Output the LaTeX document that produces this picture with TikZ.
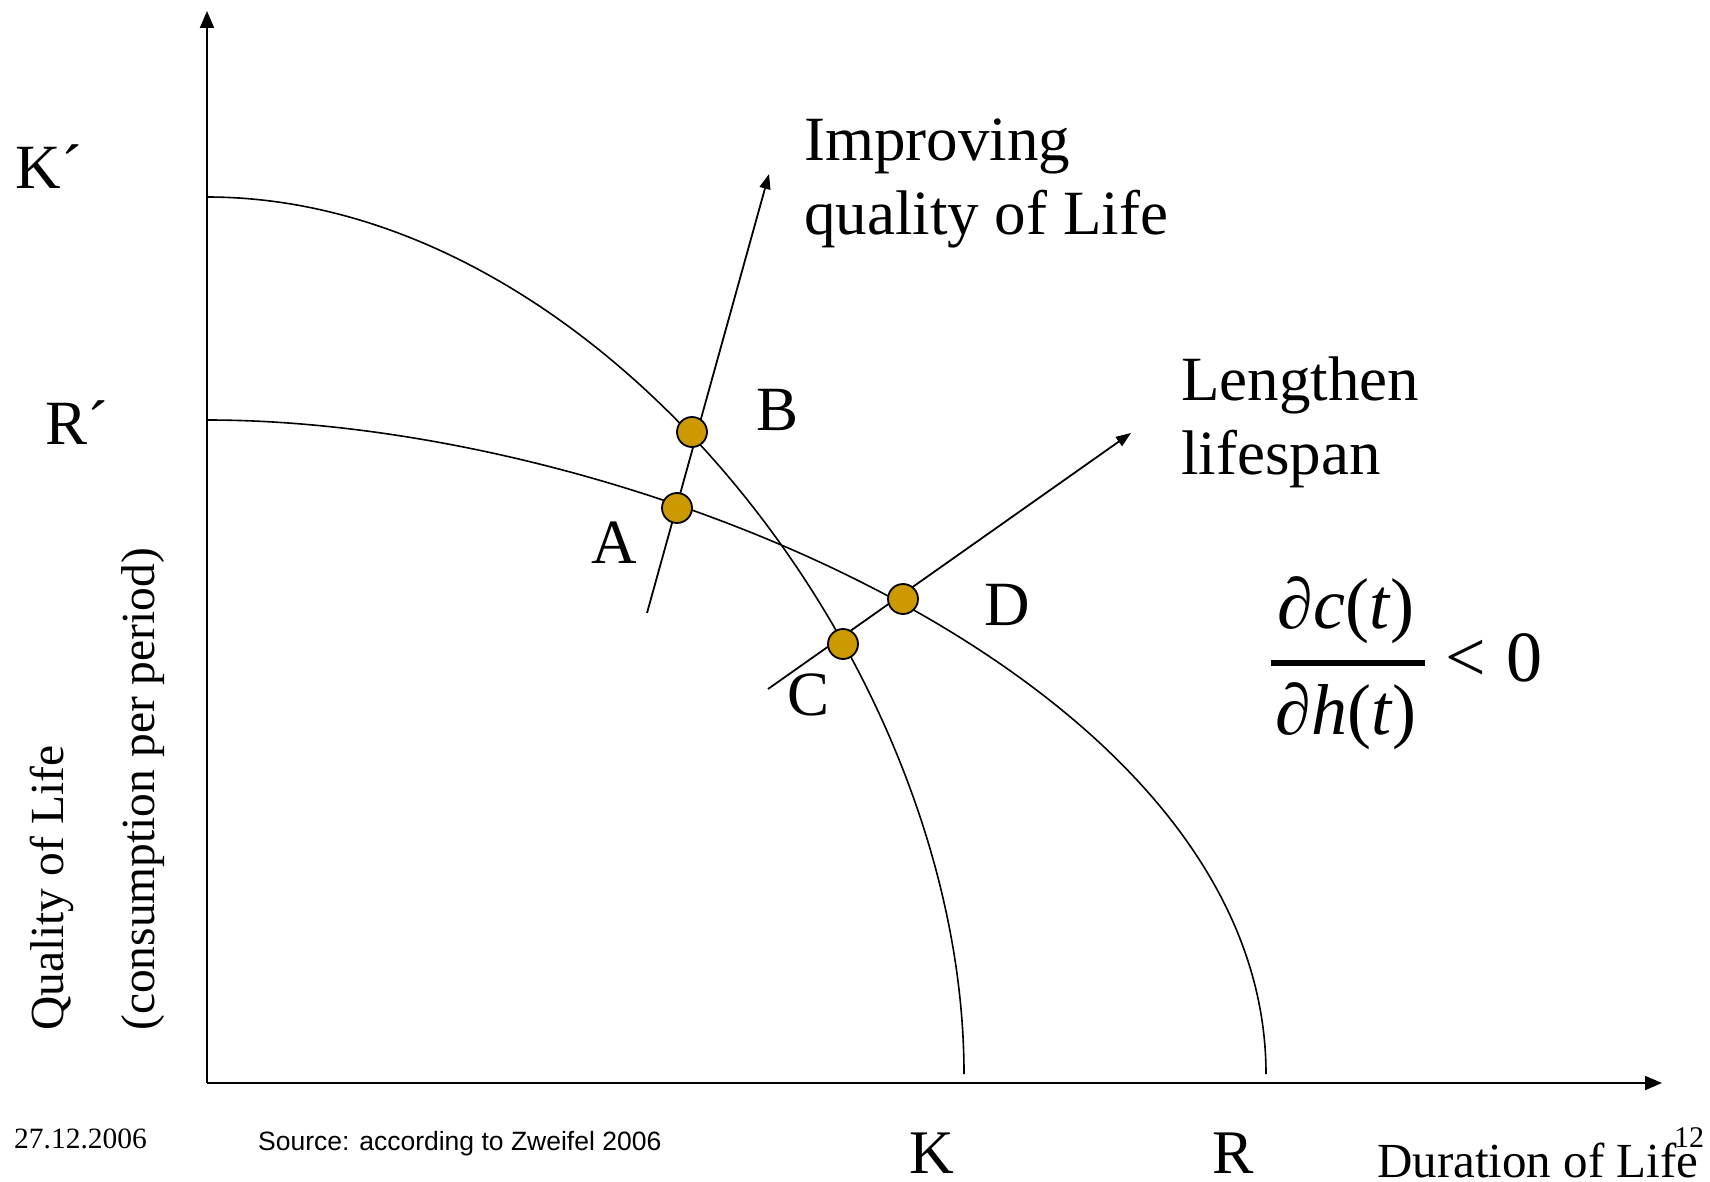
\RequirePackage{fix-cm}
\documentclass[tikz,border=0pt]{standalone}
\usepackage{fontspec}
\setmainfont{Liberation Serif}
\setsansfont{Liberation Sans}
\usetikzlibrary{arrows.meta}
\definecolor{dotgold}{RGB}{204,153,0}

\begin{document}
\begin{tikzpicture}[x=1pt,y=-1pt,
  axisline/.style={line width=2pt,-{Triangle[length=17pt,width=14pt]}},
  front/.style={line width=1.6pt},
  move/.style={line width=1.8pt,-{Triangle[length=15pt,width=11pt]}},
  pnt/.style={circle,draw,line width=1.8pt,fill=dotgold,inner sep=0pt,minimum size=30pt},
  lab/.style={inner sep=0pt,font=\fontsize{63}{74}\selectfont},
  ylab/.style={inner sep=0pt,rotate=90,anchor=west,font=\fontsize{47.5}{50}\selectfont},
  foot/.style={inner sep=0pt,anchor=base,font=\fontsize{62}{66}\selectfont}]
  \useasboundingbox (0,0) rectangle (1710,1182);
  \coordinate (o) at (207,1083);
  \coordinate (xe) at (1662,1083);
  \coordinate (ye) at (207,11);
  \draw[axisline] (o) -- (xe);
  \draw[axisline] (o) -- (ye);
  % frontiers
  \coordinate (ks) at (207,197);
  \coordinate (ke) at (964,1074);
  \coordinate (rs) at (207,420);
  \coordinate (re) at (1266,1074);
  \draw[front] (ks) .. controls (601,197) and (964,666) .. (ke);
  \draw[front] (rs) .. controls (631,420) and (1266,682) .. (re);
  % directions
  \coordinate (u0) at (647,613);
  \coordinate (u1) at (769,174);
  \coordinate (m0) at (768,689);
  \coordinate (m1) at (1131,433);
  \draw[move] (u0) -- (u1);
  \draw[move] (m0) -- (m1);
  \node[pnt] (dA) at (677,508) {};
  \node[pnt] (dB) at (692,432) {};
  \node[pnt] (dC) at (843,644) {};
  \node[pnt] (dD) at (903,599) {};
  \node[lab] (lb) at (778,410) {B};
  \node[lab] (la) at (614,543) {A};
  \node[lab] (lc) at (808,695) {C};
  \node[lab] (ld) at (1007,605) {D};
  \node[lab] (kk) at (49,167) {K´};
  \node[lab] (rr) at (77,423) {R´};
  \node[lab,anchor=west,align=left] (iq) at (804,183) {Improving\\quality of Life};
  \node[lab,anchor=west,align=left] (ll) at (1181,422) {Lengthen\\lifespan};
  \node[inner sep=0pt,font=\fontsize{72}{76}\selectfont] (rule) at (1406,663)
    {$\displaystyle{\mbox{\hspace{5pt}\textit{∂c}(\textit{t})\hspace{8pt}}\above 5.5pt\mbox{\hspace{5pt}\textit{∂h}(\textit{t})\hspace{8pt}}}\mathrel{\mbox{<}}\mbox{0}$};
  \node[ylab] (ql) at (52,1031) {Quality of Life};
  \node[ylab] (cp) at (143,1031) {(consumption per period)};
  \node[foot] (kx) at (932,1173) {K};
  \node[foot] (rx) at (1233,1173) {R};
  \node[foot,anchor=base west,font=\fontsize{49}{54}\selectfont] (dl) at (1377,1177) {Duration of Life};
  \node[inner sep=0pt,anchor=base west,font=\fontsize{29.5}{32}\selectfont] (dt) at (14,1148) {27.12.2006};
  \node[inner sep=0pt,anchor=base west,font=\sffamily\fontsize{26.5}{30}\selectfont] (src) at (258,1150)
    {Source: according to Zweifel 2006};
  \node[inner sep=0pt,anchor=base,font=\fontsize{30}{32}\selectfont] (pg) at (1689,1147) {12};
\end{tikzpicture}
\end{document}
